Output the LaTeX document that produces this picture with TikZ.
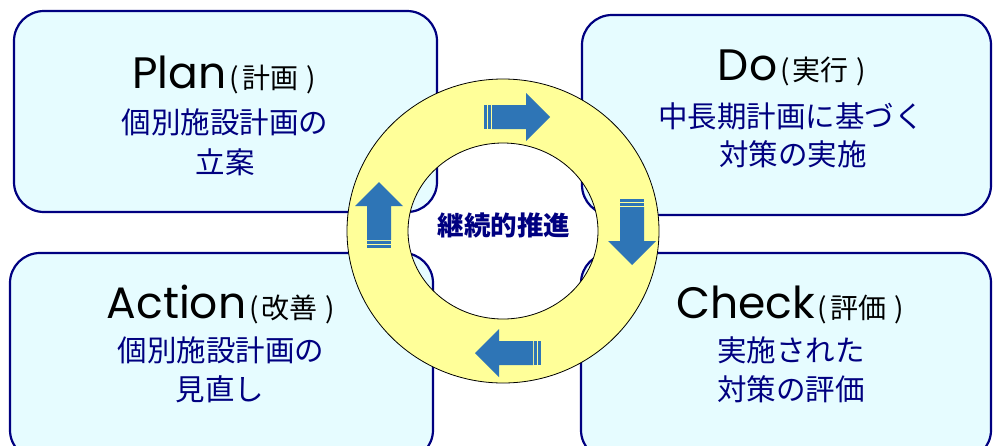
\documentclass[tikz,border=0pt]{standalone}
\usepackage{fontspec}
\setmainfont{Poppins}
\newfontfamily\jpfont{Noto Sans CJK JP}
\definecolor{pdnavy}{RGB}{0,0,128}
\definecolor{pdcyan}{RGB}{230,252,255}
\definecolor{pdyellow}{RGB}{255,255,153}
\definecolor{pdblue}{RGB}{46,117,182}
\usetikzlibrary{positioning}
\newcommand{\phasesub}[1]{{\jpfont\fontsize{28}{28}\selectfont\kern3pt(\kern3pt#1\kern8pt)}}
\tikzset{
  phasebox/.style={draw=pdnavy,line width=2.2pt,fill=pdcyan,rounded corners=30pt,inner sep=0pt},
  phasetitle/.style={anchor=base,inner sep=0pt,font=\fontsize{44}{44}\selectfont},
  phaseline/.style={anchor=base,inner sep=0pt,text=pdnavy,font=\jpfont\fontsize{29.5}{29.5}\selectfont},
  cyclearrow/.pic={
    \fill[pdblue] (-25,-12) -- (9,-12) -- (9,-24) -- (33,0) -- (9,24) -- (9,12) -- (-25,12) -- cycle;
    \fill[pdblue] (-33,-12) rectangle (-30.3,12);
    \fill[pdblue] (-29,-12) rectangle (-26.3,12);
  }
}
\begin{document}
\begin{tikzpicture}[x=1pt,y=-1pt]
  \useasboundingbox (0,0) rectangle (993,445);
  \clip (0,0) rectangle (993,445);
  % Phase boxes
  \node[phasebox,minimum width=423pt,minimum height=201pt] (plan) at (225.5,111.5) {};
  \node[phasebox,minimum width=409pt,minimum height=200pt] (do) at (786.5,115) {};
  \node[phasebox,minimum width=423pt,minimum height=207pt] (act) at (221.5,356.5) {};
  \node[phasebox,minimum width=410pt,minimum height=207pt] (chk) at (786,356.5) {};
  % Texts
  \node[phasetitle] (plantitle) at (224,88) {Plan\phasesub{計画}};
  \node[phaseline] (planl1) at (225,133) {個別施設計画の};
  \node[phaseline] (planl2) at (225,173) {立案};
  \node[phasetitle] (dotitle) at (792,80) {Do\phasesub{実行}};
  \node[phaseline] (dol1) at (791,127) {中長期計画に基づく};
  \node[phaseline] (dol2) at (793,165) {対策の実施};
  \node[phasetitle] (acttitle) at (221,318) {Action\phasesub{改善}};
  \node[phaseline] (actl1) at (221,361) {個別施設計画の};
  \node[phaseline] (actl2) at (220,400) {見直し};
  \node[phasetitle] (chktitle) at (790,318) {Check\phasesub{評価}};
  \node[phaseline] (chkl1) at (791,361) {実施された};
  \node[phaseline] (chkl2) at (791,400) {対策の評価};
  % Ring
  \path[fill=pdyellow,draw=black,line width=0.8pt,even odd rule]
    (503,231) ellipse [x radius=156,y radius=152]
    (503,231) ellipse [x radius=95,y radius=88];
  % Cycle arrows
  \pic[rotate=0] at (517,117) {cyclearrow};
  \pic[rotate=-90] at (632,232) {cyclearrow};
  \pic[rotate=180] at (508,353) {cyclearrow};
  \pic[rotate=90] at (379,215) {cyclearrow};
  \node[anchor=base,inner sep=0pt,text=pdnavy,font=\jpfont\bfseries\fontsize{26.5}{26.5}\selectfont] (core) at (504,235) {継続的推進};
\end{tikzpicture}
\end{document}
